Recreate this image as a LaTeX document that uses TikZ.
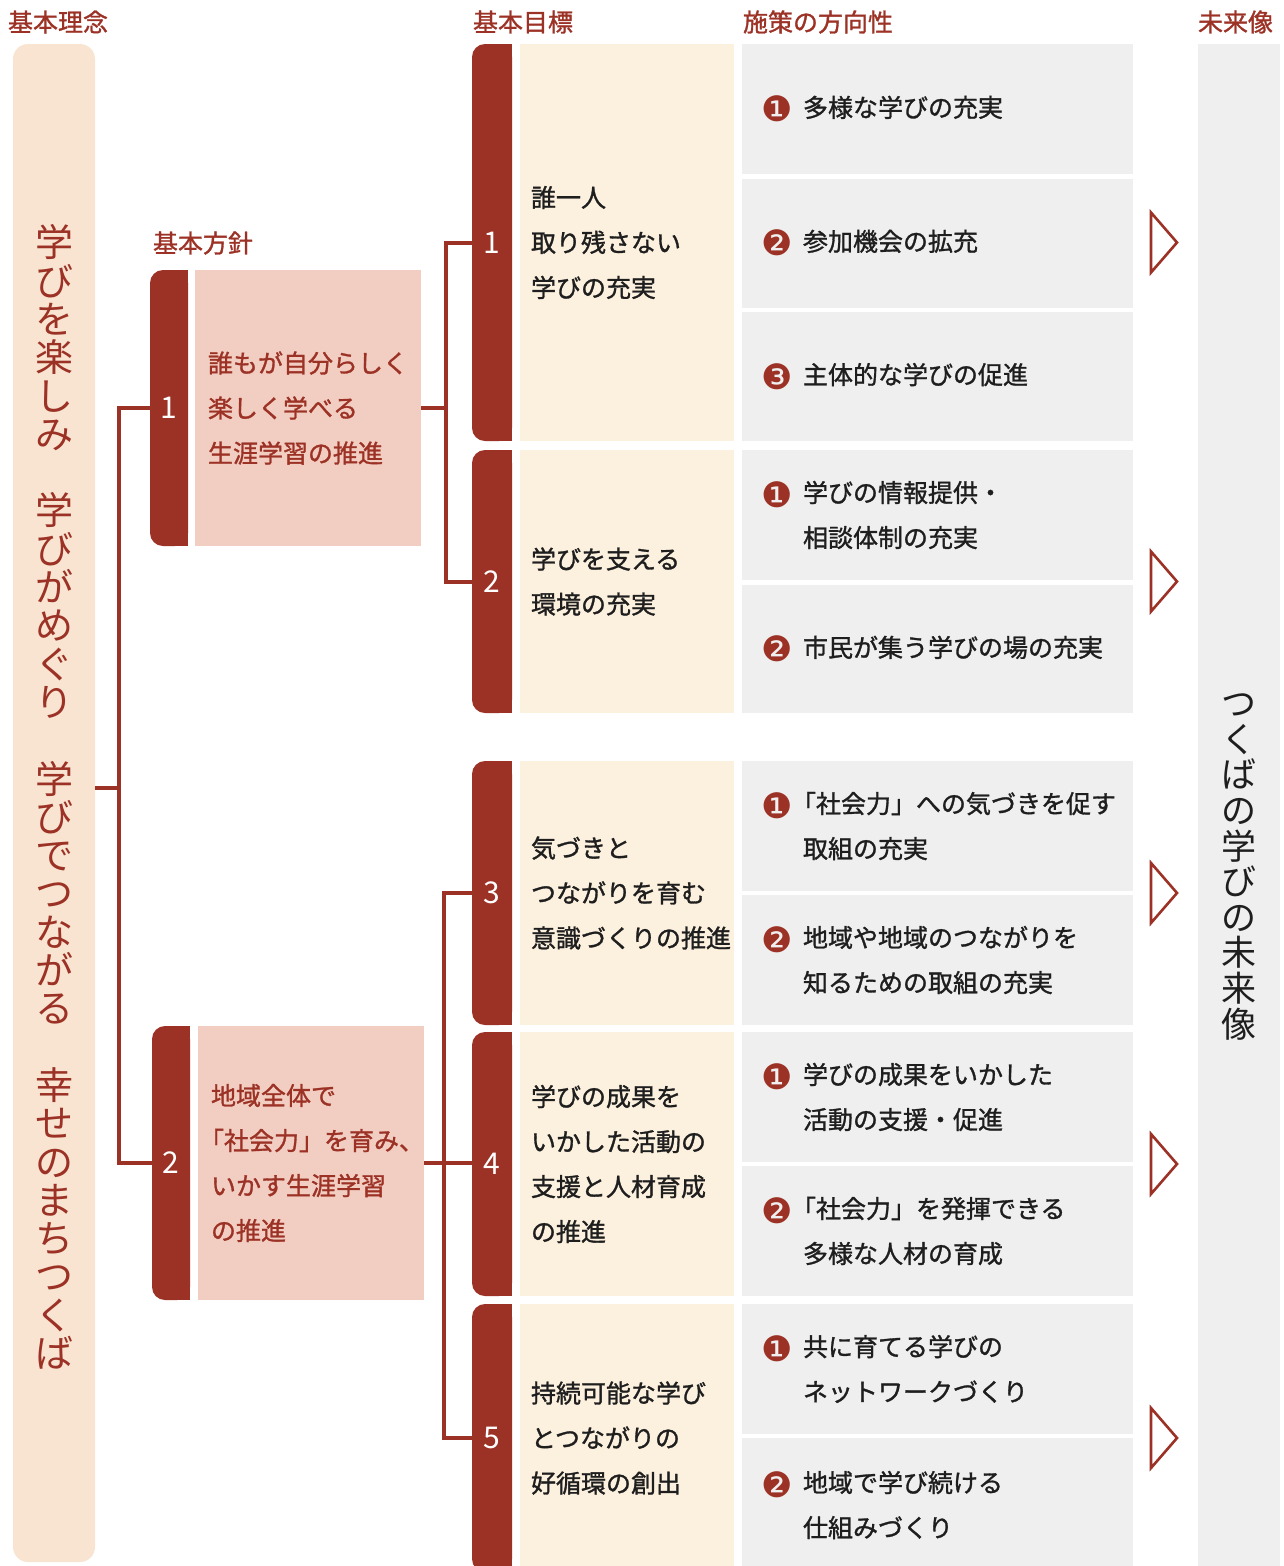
\documentclass[tikz,border=0pt]{standalone}
\usepackage{fontspec}
\setmainfont{Noto Sans CJK JP}
\newfontfamily\jpmed{Noto Sans CJK JP}[FakeBold=1.2]
\newfontfamily\marufont{DejaVu Sans}
\usetikzlibrary{positioning,backgrounds}

\definecolor{akacha}{HTML}{9C3125}
\definecolor{momo}{HTML}{F2CDC1}
\definecolor{kinari}{HTML}{FCF0DE}
\definecolor{usucha}{HTML}{F8E4D1}
\definecolor{hai}{HTML}{EEEFEE}
\definecolor{sumi}{HTML}{1E1E1E}

\newcommand{\honbun}{\jpmed\fontsize{25}{45}\selectfont}
\newcommand{\maru}[1]{\makebox[39pt][l]{\hspace*{-3pt}\raisebox{-5pt}{\marufont\fontsize{35}{35}\selectfont\color{akacha}#1}}}
\newcommand{\sagari}{\hspace*{39pt}}
\newcommand{\kakko}{\leavevmode\kern-12pt}

\begin{document}
\begin{tikzpicture}[x=1pt,y=-1pt,every node/.style={outer sep=0pt},
    midashi/.style={font=\jpmed\fontsize{25}{25}\selectfont,text=akacha,inner sep=0pt,anchor=west},
    rinen box/.style={fill=usucha,rounded corners=15pt,minimum width=82pt,minimum height=1518pt,anchor=north west},
    tate text/.style={align=center,inner sep=0pt},
    tab/.style={fill=akacha,rounded corners=13pt,text=white,font=\fontsize{30}{30}\selectfont,inner sep=0pt,anchor=north west},
    hoshin box/.style={fill=momo,text=akacha,font=\honbun,inner xsep=13pt,text width=200pt,minimum width=226pt,align=left},
    mokuhyo box/.style={fill=kinari,text=sumi,font=\honbun,inner xsep=11pt,text width=192pt,minimum width=214pt,align=left},
    shisaku box/.style={fill=hai,text=sumi,font=\honbun,inner xsep=22pt,text width=347pt,minimum width=391pt,align=left},
    link/.style={draw=akacha,line width=4pt},
    yajirushi/.style={draw=akacha,line width=2.6pt}]

  \useasboundingbox (0,0) rectangle (1284,1566);

  % column heads
  \node[midashi] (h-rinen) at (8,22) {基本理念};
  \node[midashi] (h-hoshin) at (153,243) {基本方針};
  \node[midashi] (h-mokuhyo) at (473,22) {基本目標};
  \node[midashi] (h-shisaku) at (743,22) {施策の方向性};
  \node[midashi] (h-mirai) at (1198,22) {未来像};

  % basic idea
  \node[rinen box] (rinen) at (13,44) {};
  \node[tate text,text=akacha,font=\fontsize{38}{38.3}\selectfont] (rinentext) at (54,797)
    {学\\び\\を\\楽\\し\\み\\　\\学\\び\\が\\め\\ぐ\\り\\　\\学\\び\\で\\つ\\な\\が\\る\\　\\幸\\せ\\の\\ま\\ち\\つ\\く\\ば};

  % future
  \node[fill=hai,minimum width=82pt,minimum height=1530pt,anchor=north west] (mirai) at (1198,44) {};
  \node[tate text,text=sumi,font=\fontsize{35}{35.6}\selectfont] (miraitext) at (1239,867)
    {つ\\く\\ば\\の\\学\\び\\の\\未\\来\\像};

  % basic policies
  \node[tab,minimum width=38pt,minimum height=276pt] (hs1tab) at (150,270) {1};
  \node[hoshin box,minimum height=276pt] (hs1) [right=7pt of hs1tab] {誰もが自分らしく\\楽しく学べる\\生涯学習の推進};
  \node[tab,minimum width=38pt,minimum height=274pt] (hs2tab) at (152,1026) {2};
  \node[hoshin box,minimum height=274pt] (hs2) [right=8pt of hs2tab] {地域全体で\\\kakko「社会力」を育み、\\いかす生涯学習\\の推進};

  % basic goals
  \node[tab,minimum width=40pt,minimum height=397pt] (mk1tab) at (472,44) {1};
  \node[mokuhyo box,minimum height=397pt] (mk1) [right=8pt of mk1tab] {誰一人\\取り残さない\\学びの充実};
  \node[tab,minimum width=40pt,minimum height=263pt] (mk2tab) [below=9pt of mk1tab] {2};
  \node[mokuhyo box,minimum height=263pt] (mk2) [right=8pt of mk2tab] {学びを支える\\環境の充実};
  \node[tab,minimum width=40pt,minimum height=264pt] (mk3tab) [below=48pt of mk2tab] {3};
  \node[mokuhyo box,minimum height=264pt] (mk3) [right=8pt of mk3tab] {気づきと\\つながりを育む\\意識づくりの推進};
  \node[tab,minimum width=40pt,minimum height=264pt] (mk4tab) [below=7pt of mk3tab] {4};
  \node[mokuhyo box,minimum height=264pt] (mk4) [right=8pt of mk4tab] {学びの成果を\\いかした活動の\\支援と人材育成\\の推進};
  \node[tab,minimum width=40pt,minimum height=268pt] (mk5tab) [below=8pt of mk4tab] {5};
  \node[mokuhyo box,minimum height=268pt] (mk5) [right=8pt of mk5tab] {持続可能な学び\\とつながりの\\好循環の創出};

  % policy directions
  \node[shisaku box,minimum height=130pt,anchor=north west] (s11) at ([xshift=8pt]mk1.north east) {\maru{❶}多様な学びの充実};
  \node[shisaku box,minimum height=129pt] (s12) [below=4.5pt of s11] {\maru{❷}参加機会の拡充};
  \node[shisaku box,minimum height=129.5pt] (s13) [below=4pt of s12] {\maru{❸}主体的な学びの促進};
  \node[shisaku box,minimum height=130pt,anchor=north west] (s21) at ([xshift=8pt]mk2.north east) {\maru{❶}学びの情報提供・\\\sagari 相談体制の充実};
  \node[shisaku box,minimum height=128pt] (s22) [below=5pt of s21] {\maru{❷}市民が集う学びの場の充実};
  \node[shisaku box,minimum height=130pt,anchor=north west] (s31) at ([xshift=8pt]mk3.north east) {\maru{❶}\kakko「社会力」への気づきを促す\\\sagari 取組の充実};
  \node[shisaku box,minimum height=130pt] (s32) [below=4pt of s31] {\maru{❷}地域や地域のつながりを\\\sagari 知るための取組の充実};
  \node[shisaku box,minimum height=130pt,anchor=north west] (s41) at ([xshift=8pt]mk4.north east) {\maru{❶}学びの成果をいかした\\\sagari 活動の支援・促進};
  \node[shisaku box,minimum height=130pt] (s42) [below=4pt of s41] {\maru{❷}\kakko「社会力」を発揮できる\\\sagari 多様な人材の育成};
  \node[shisaku box,minimum height=130pt,anchor=north west] (s51) at ([xshift=8pt]mk5.north east) {\maru{❶}共に育てる学びの\\\sagari ネットワークづくり};
  \node[shisaku box,minimum height=134pt] (s52) [below=4pt of s51] {\maru{❷}地域で学び続ける\\\sagari 仕組みづくり};

  % square right side of the tabs
  \begin{scope}[on background layer]
    \foreach \tb in {hs1tab,hs2tab,mk1tab,mk2tab,mk3tab,mk4tab,mk5tab}
      \fill[akacha] (\tb.north) rectangle (\tb.south east);
  \end{scope}

  % tree lines
  \coordinate (miki) at (119,788);
  \draw[link] (rinen.east |- miki) -- (miki);
  \draw[link] (hs1tab.west) -| (miki) |- (hs2tab.west);

  \coordinate (eda1) at ([xshift=25pt]hs1.east);
  \draw[link] (hs1.east) -- (eda1);
  \draw[link] (mk1tab.west) -| (eda1) |- (mk2tab.west);

  \coordinate (eda2) at ([xshift=20pt]hs2.east);
  \draw[link] (hs2.east) -- (hs2.east -| mk4tab.west);
  \draw[link] (mk3tab.west) -| (eda2) |- (mk5tab.west);

  % arrows to the future
  \foreach \n in {1,...,5}
    \draw[yajirushi] ([xshift=417pt,yshift=30pt]mk\n.east) -- ++(26,30) -- ++(-26,30) -- cycle;
\end{tikzpicture}
\end{document}
